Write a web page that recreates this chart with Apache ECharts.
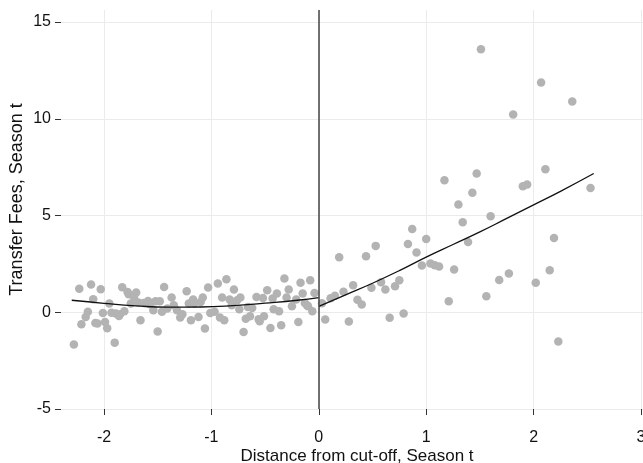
<!DOCTYPE html>
<html>
<head>
<meta charset="utf-8">
<script src="https://cdn.jsdelivr.net/npm/echarts@6/dist/echarts.min.js"></script>
<style>
  html, body { margin: 0; padding: 0; background: #fff; }
  #main { width: 643px; height: 463px; }
</style>
</head>
<body>
<div id="main"></div>
<script>
// binned means, left of the cut-off
const leftX = [-2.28,-2.23,-2.21,-2.17,-2.15,-2.12,-2.10,-2.08,-2.06,-2.03,-2.01,-1.99,-1.97,-1.95,-1.93,-1.90,-1.89,-1.86,-1.85,-1.83,
  -1.81,-1.78,-1.77,-1.75,-1.72,-1.70,-1.68,-1.66,-1.63,-1.59,-1.57,-1.54,-1.52,-1.50,-1.48,-1.46,-1.44,-1.41,-1.37,-1.35,
  -1.32,-1.29,-1.27,-1.23,-1.21,-1.19,-1.17,-1.16,-1.12,-1.10,-1.08,-1.06,-1.03,-1.01,-0.97,-0.94,-0.92,-0.90,-0.88,-0.86,
  -0.83,-0.81,-0.79,-0.76,-0.74,-0.73,-0.70,-0.68,-0.66,-0.64,-0.62,-0.58,-0.56,-0.55,-0.52,-0.51,-0.48,-0.45,-0.43,-0.42,
  -0.39,-0.37,-0.35,-0.32,-0.30,-0.28,-0.25,-0.21,-0.19,-0.17,-0.15,-0.13,-0.11,-0.10,-0.08,-0.06,-0.04]
const leftY = [-1.67,1.22,-0.62,-0.24,0.02,1.43,0.67,-0.55,-0.58,1.19,-0.04,-0.50,-0.83,0.45,-0.02,-1.57,-0.07,-0.19,-0.10,1.29,
  0.05,1.05,0.93,0.45,0.79,1.02,0.50,-0.41,0.48,0.58,0.41,0.10,0.57,-1.00,0.57,0.02,1.31,0.19,0.76,0.36,
  0.10,-0.27,-0.10,1.09,0.45,-0.41,0.66,0.45,-0.24,0.53,0.76,-0.84,1.28,-0.04,0.02,1.48,-0.27,0.76,-0.41,1.71,
  0.66,0.36,1.17,0.62,0.16,0.76,-1.02,-0.33,0.27,-0.21,0.22,0.79,-0.36,-0.47,0.74,-0.21,1.14,-0.81,0.71,0.16,
  0.97,0.05,-0.67,1.74,0.76,1.17,0.31,0.66,-0.50,1.53,0.97,0.48,0.36,0.31,1.65,0.05,1.00]

// binned means, right of the cut-off
const rightX = [0.03,0.06,0.11,0.15,0.19,0.23,0.28,0.32,0.36,0.40,0.44,0.49,0.53,0.58,0.62,0.66,0.71,0.75,0.79,0.83,
  0.87,0.91,0.96,1.00,1.04,1.08,1.12,1.17,1.21,1.26,1.30,1.34,1.39,1.43,1.47,1.51,1.56,1.60,1.68,1.77,
  1.81,1.90,1.94,2.02,2.07,2.11,2.15,2.19,2.23,2.36,2.53]
const rightY = [0.47,-0.38,0.72,0.85,2.84,1.06,-0.48,1.39,0.64,0.40,2.89,1.26,3.43,1.55,1.17,-0.29,1.34,1.65,-0.07,3.53,
  4.30,3.09,2.41,3.79,2.52,2.43,2.36,6.82,0.57,2.21,5.57,4.65,3.63,6.18,7.17,13.59,0.83,4.96,1.67,2.00,
  10.22,6.51,6.60,1.53,11.87,7.39,2.17,3.84,-1.51,10.89,6.42]

// fitted curves on each side
const fitLeftX = [-2.3,-2.0,-1.7,-1.4,-1.1,-0.8,-0.5,-0.2,0]
const fitLeftY = [0.62,0.46,0.33,0.26,0.27,0.34,0.47,0.62,0.76]
const fitRightX = [0,0.25,0.5,0.75,1.0,1.25,1.5,1.75,2.0,2.25,2.56]
const fitRightY = [0.30,0.90,1.50,2.15,2.85,3.50,4.15,4.85,5.55,6.25,7.17]

const cutoff = 0
const xTicks = [-2, 3, 1]   // min, max, step
const yTicks = [-5, 15, 5]

const zip = (a, b) => a.map((v, i) => [v, b[i]])
const font = 'Liberation Sans, Arial, sans-serif'

const points = zip(leftX, leftY).concat(zip(rightX, rightY))

const option = {
    animation: false,
    textStyle: { fontFamily: font },
    // outerBoundsMode none: keep the grids where they are, names may sit near the edge
    grid: [
        { left: 61, right: 2, top: 10, bottom: 54, outerBoundsMode: 'none' },   // data
        { left: 104, right: 2, top: 10, bottom: 54, outerBoundsMode: 'none' },  // x ticks + vertical grid
        { left: 61, right: 0, top: 22, bottom: 54, outerBoundsMode: 'none' }    // y ticks + horizontal grid
    ],
    xAxis: [
        {
            gridIndex: 0, type: 'value', min: -2.4, max: 3,
            name: 'Distance from cut-off, Season t',
            nameLocation: 'middle', nameGap: 39,
            nameTextStyle: { fontSize: 17, color: '#111', padding: [0, 0, 0, 12] },
            axisLine: { show: false }, axisTick: { show: false },
            axisLabel: { show: false }, splitLine: { show: false }
        },
        {
            gridIndex: 1, type: 'value', min: xTicks[0], max: xTicks[1], interval: xTicks[2],
            offset: 12,
            axisLine: { show: false },
            axisTick: { show: true, length: 6, lineStyle: { color: '#333' } },
            axisLabel: { fontSize: 16, color: '#111', margin: 9 },
            splitLine: { show: true, lineStyle: { color: '#ebebeb', width: 1 } }
        },
        { gridIndex: 2, type: 'value', min: 0, max: 1, show: false }
    ],
    yAxis: [
        {
            gridIndex: 0, type: 'value', min: -5, max: 15.62,
            name: 'Transfer Fees, Season t',
            nameLocation: 'middle', nameGap: 35,
            nameTextStyle: { fontSize: 18, color: '#111', padding: [0, 0, 0, 20] },
            axisLine: { show: false }, axisTick: { show: false },
            axisLabel: { show: false }, splitLine: { show: false }
        },
        { gridIndex: 1, type: 'value', min: 0, max: 1, show: false },
        {
            gridIndex: 2, type: 'value', min: yTicks[0], max: yTicks[1], interval: yTicks[2],
            axisLine: { show: false },
            axisTick: { show: true, length: 6, lineStyle: { color: '#333' } },
            axisLabel: { fontSize: 16, color: '#111', margin: 10 },
            splitLine: { show: true, lineStyle: { color: '#ebebeb', width: 1 } }
        }
    ],
    series: [
        {
            type: 'scatter',
            xAxisIndex: 0, yAxisIndex: 0,
            data: points,
            symbolSize: 8.5,
            itemStyle: { color: '#b3b3b3', opacity: 1 },
            markLine: {
                silent: true,
                symbol: 'none',
                label: { show: false },
                lineStyle: { color: '#444', width: 1.5, type: 'solid' },
                data: [{ xAxis: cutoff }]
            }
        },
        {
            type: 'line',
            xAxisIndex: 0, yAxisIndex: 0,
            data: zip(fitLeftX, fitLeftY),
            smooth: true, showSymbol: false,
            lineStyle: { color: '#111', width: 1.3 }
        },
        {
            type: 'line',
            xAxisIndex: 0, yAxisIndex: 0,
            data: zip(fitRightX, fitRightY),
            smooth: true, showSymbol: false,
            lineStyle: { color: '#111', width: 1.3 }
        }
    ]
}

const myChart = echarts.init(document.getElementById('main'))
myChart.setOption(option)
</script>
</body>
</html>
